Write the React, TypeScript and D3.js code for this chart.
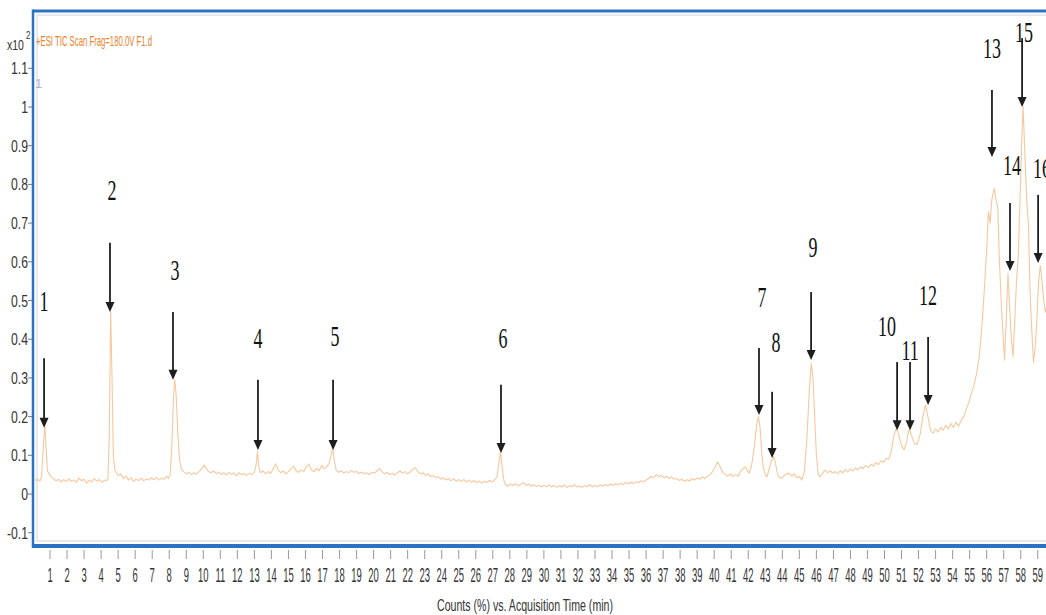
import React, { useRef, useEffect } from 'react';
import * as d3 from 'd3';

const W = 1046;
const H = 615;

// TIC trace: [acquisition time (min), counts (x10^2)]
const trace0to10: [number, number][] = [
  [0.0, 0.036], [0.1, 0.040], [0.2, 0.034], [0.3, 0.038], [0.4, 0.033], [0.5, 0.045], [0.6, 0.12], [0.69, 0.178],
  [0.78, 0.11], [0.85, 0.06], [0.95, 0.052], [1.05, 0.045], [1.2, 0.040], [1.35, 0.034], [1.5, 0.038], [1.65, 0.031],
  [1.8, 0.037], [1.95, 0.032], [2.1, 0.039], [2.25, 0.033], [2.4, 0.036], [2.55, 0.030], [2.7, 0.041], [2.85, 0.034],
  [3.0, 0.038], [3.15, 0.028], [3.3, 0.036], [3.45, 0.031], [3.6, 0.040], [3.75, 0.033], [3.9, 0.037], [4.05, 0.030],
  [4.2, 0.036], [4.3, 0.034], [4.4, 0.04], [4.48, 0.15], [4.56, 0.47], [4.64, 0.30], [4.72, 0.10], [4.8, 0.062],
  [4.9, 0.055], [5.0, 0.048], [5.15, 0.052], [5.3, 0.040], [5.45, 0.046], [5.6, 0.036], [5.75, 0.042], [5.9, 0.033],
  [6.05, 0.038], [6.2, 0.035], [6.35, 0.041], [6.5, 0.034], [6.65, 0.039], [6.8, 0.036], [6.95, 0.042], [7.1, 0.037],
  [7.25, 0.043], [7.4, 0.036], [7.55, 0.041], [7.7, 0.038], [7.85, 0.046], [7.95, 0.040], [8.05, 0.05], [8.15, 0.12],
  [8.25, 0.25], [8.32, 0.295], [8.4, 0.26], [8.5, 0.16], [8.6, 0.09], [8.7, 0.065], [8.85, 0.058], [9.0, 0.052],
  [9.15, 0.056], [9.3, 0.050], [9.45, 0.055], [9.6, 0.051], [9.75, 0.058], [9.9, 0.064], [10.05, 0.075], [10.15, 0.068],
];

const trace10to28: [number, number][] = [
  [10.3, 0.058], [10.45, 0.055], [10.6, 0.060], [10.75, 0.052], [10.9, 0.057], [11.05, 0.050], [11.2, 0.055], [11.35, 0.049],
  [11.5, 0.056], [11.65, 0.051], [11.8, 0.054], [11.95, 0.047], [12.1, 0.055], [12.25, 0.050], [12.4, 0.053], [12.55, 0.048],
  [12.7, 0.054], [12.85, 0.050], [13.0, 0.056], [13.1, 0.075], [13.18, 0.11], [13.26, 0.07], [13.35, 0.055], [13.5, 0.060],
  [13.65, 0.052], [13.8, 0.058], [13.95, 0.053], [14.1, 0.065], [14.25, 0.078], [14.4, 0.062], [14.55, 0.055], [14.7, 0.060],
  [14.85, 0.052], [15.0, 0.058], [15.15, 0.066], [15.3, 0.072], [15.45, 0.060], [15.6, 0.056], [15.75, 0.063], [15.9, 0.058],
  [16.05, 0.070], [16.2, 0.078], [16.35, 0.062], [16.5, 0.058], [16.65, 0.066], [16.8, 0.060], [16.95, 0.074], [17.1, 0.065],
  [17.25, 0.070], [17.4, 0.080], [17.5, 0.100], [17.6, 0.12], [17.7, 0.085], [17.8, 0.062], [17.95, 0.056], [18.1, 0.060],
  [18.25, 0.054], [18.4, 0.058], [18.55, 0.055], [18.7, 0.061], [18.85, 0.056], [19.0, 0.058], [19.15, 0.053], [19.3, 0.057],
  [19.45, 0.052], [19.6, 0.055], [19.75, 0.050], [19.9, 0.056], [20.05, 0.054], [20.2, 0.060], [20.35, 0.066], [20.5, 0.058],
  [20.65, 0.052], [20.8, 0.056], [20.95, 0.050], [21.1, 0.054], [21.25, 0.049], [21.4, 0.055], [21.55, 0.060], [21.7, 0.054],
  [21.85, 0.058], [22.0, 0.052], [22.15, 0.057], [22.3, 0.064], [22.45, 0.068], [22.6, 0.058], [22.75, 0.052], [22.9, 0.055],
  [23.05, 0.048], [23.2, 0.052], [23.35, 0.045], [23.5, 0.048], [23.65, 0.042], [23.8, 0.045], [23.95, 0.038], [24.1, 0.042],
  [24.25, 0.036], [24.4, 0.040], [24.55, 0.034], [24.7, 0.039], [24.85, 0.033], [25.0, 0.037], [25.15, 0.032], [25.3, 0.038],
  [25.45, 0.031], [25.6, 0.036], [25.75, 0.030], [25.9, 0.035], [26.05, 0.029], [26.2, 0.034], [26.35, 0.028], [26.5, 0.033],
  [26.65, 0.030], [26.8, 0.035], [26.95, 0.031], [27.1, 0.036], [27.25, 0.045], [27.35, 0.08], [27.45, 0.11], [27.55, 0.07],
  [27.65, 0.035], [27.75, 0.024], [27.9, 0.020],
];

const trace28to44: [number, number][] = [
  [28.05, 0.026], [28.2, 0.022], [28.35, 0.027], [28.5, 0.021], [28.65, 0.025], [28.8, 0.030], [28.95, 0.022], [29.1, 0.026],
  [29.25, 0.020], [29.4, 0.024], [29.55, 0.019], [29.7, 0.023], [29.85, 0.018], [30.0, 0.022], [30.15, 0.019], [30.3, 0.024],
  [30.45, 0.018], [30.6, 0.022], [30.75, 0.017], [30.9, 0.021], [31.05, 0.018], [31.2, 0.023], [31.35, 0.017], [31.5, 0.021],
  [31.65, 0.019], [31.8, 0.024], [31.95, 0.018], [32.1, 0.021], [32.25, 0.017], [32.4, 0.022], [32.55, 0.019], [32.7, 0.025],
  [32.85, 0.018], [33.0, 0.022], [33.15, 0.019], [33.3, 0.024], [33.45, 0.020], [33.6, 0.025], [33.75, 0.021], [33.9, 0.026],
  [34.05, 0.022], [34.2, 0.027], [34.35, 0.023], [34.5, 0.028], [34.65, 0.024], [34.8, 0.030], [34.95, 0.026], [35.1, 0.031],
  [35.25, 0.027], [35.4, 0.032], [35.55, 0.029], [35.7, 0.034], [35.85, 0.031], [36.0, 0.036], [36.15, 0.040], [36.3, 0.046],
  [36.45, 0.042], [36.6, 0.050], [36.75, 0.045], [36.9, 0.048], [37.05, 0.042], [37.2, 0.046], [37.35, 0.040], [37.5, 0.044],
  [37.65, 0.038], [37.8, 0.040], [37.95, 0.035], [38.1, 0.038], [38.25, 0.033], [38.4, 0.037], [38.55, 0.034], [38.7, 0.040],
  [38.85, 0.036], [39.0, 0.042], [39.15, 0.038], [39.3, 0.044], [39.45, 0.040], [39.6, 0.046], [39.75, 0.050], [39.9, 0.058],
  [40.05, 0.070], [40.2, 0.083], [40.35, 0.070], [40.5, 0.056], [40.65, 0.050], [40.8, 0.046], [40.95, 0.052], [41.1, 0.045],
  [41.25, 0.050], [41.4, 0.046], [41.55, 0.058], [41.7, 0.066], [41.85, 0.070], [41.95, 0.060], [42.05, 0.054], [42.2, 0.075],
  [42.35, 0.12], [42.5, 0.18], [42.6, 0.20], [42.7, 0.17], [42.8, 0.10], [42.9, 0.065], [43.0, 0.050], [43.1, 0.044],
  [43.2, 0.060], [43.35, 0.085], [43.5, 0.096], [43.6, 0.08], [43.7, 0.055], [43.8, 0.044], [43.95, 0.040], [44.1, 0.047],
  [44.25, 0.052],
];

const trace44to53: [number, number][] = [
  [44.4, 0.054], [44.55, 0.046], [44.7, 0.052], [44.85, 0.042], [45.0, 0.045], [45.15, 0.036], [45.3, 0.060], [45.45, 0.15],
  [45.6, 0.28], [45.7, 0.338], [45.8, 0.30], [45.9, 0.20], [46.0, 0.10], [46.1, 0.055], [46.2, 0.044], [46.35, 0.052],
  [46.5, 0.062], [46.65, 0.055], [46.8, 0.060], [46.95, 0.054], [47.1, 0.058], [47.25, 0.052], [47.4, 0.060], [47.55, 0.055],
  [47.7, 0.063], [47.85, 0.057], [48.0, 0.065], [48.15, 0.060], [48.3, 0.068], [48.45, 0.062], [48.6, 0.070], [48.75, 0.066],
  [48.9, 0.074], [49.05, 0.068], [49.2, 0.077], [49.35, 0.072], [49.5, 0.081], [49.65, 0.076], [49.8, 0.086], [49.95, 0.082],
  [50.1, 0.092], [50.25, 0.090], [50.4, 0.11], [50.55, 0.15], [50.7, 0.17], [50.85, 0.15], [51.0, 0.125], [51.15, 0.114],
  [51.3, 0.135], [51.45, 0.168], [51.6, 0.15], [51.75, 0.13], [51.9, 0.128], [52.0, 0.14], [52.1, 0.155], [52.25, 0.20],
  [52.4, 0.23], [52.55, 0.20], [52.7, 0.165], [52.85, 0.157], [53.0, 0.168],
];

const trace53to60: [number, number][] = [
  [53.15, 0.16], [53.3, 0.172], [53.45, 0.165], [53.6, 0.178], [53.75, 0.168], [53.9, 0.182], [54.05, 0.172], [54.2, 0.186],
  [54.35, 0.175], [54.5, 0.19], [54.65, 0.20], [54.8, 0.22], [54.95, 0.235], [55.1, 0.26], [55.25, 0.28], [55.4, 0.31],
  [55.55, 0.35], [55.7, 0.42], [55.85, 0.52], [56.0, 0.63], [56.1, 0.73], [56.2, 0.70], [56.3, 0.76], [56.45, 0.79],
  [56.55, 0.76], [56.65, 0.74], [56.75, 0.60], [56.85, 0.50], [56.95, 0.42], [57.05, 0.346], [57.15, 0.45], [57.25, 0.57],
  [57.35, 0.48], [57.45, 0.40], [57.55, 0.355], [57.65, 0.45], [57.75, 0.55], [57.85, 0.61], [57.95, 0.75], [58.05, 0.90],
  [58.14, 1.0], [58.25, 0.87], [58.35, 0.76], [58.45, 0.70], [58.55, 0.52], [58.65, 0.42], [58.75, 0.34], [58.85, 0.38],
  [58.95, 0.45], [59.05, 0.55], [59.15, 0.59], [59.25, 0.55], [59.35, 0.50], [59.45, 0.47], [59.55, 0.49],
];

const timeTicks = d3.range(1, 60);
const countTicks = [-0.1, 0, 0.1, 0.2, 0.3, 0.4, 0.5, 0.6, 0.7, 0.8, 0.9, 1, 1.1];

// numbered peaks: arrow tip / arrow top / label centre, all in data units
const peaks = [
  { id: '1', t: 0.65, tip: 0.171, top: 0.351, lt: 0.65, lv: 0.50 },
  { id: '2', t: 4.52, tip: 0.47, top: 0.649, lt: 4.64, lv: 0.786 },
  { id: '3', t: 8.22, tip: 0.295, top: 0.47, lt: 8.34, lv: 0.579 },
  { id: '4', t: 13.21, tip: 0.114, top: 0.295, lt: 13.21, lv: 0.403 },
  { id: '5', t: 17.62, tip: 0.114, top: 0.295, lt: 17.74, lv: 0.408 },
  { id: '6', t: 27.48, tip: 0.106, top: 0.282, lt: 27.6, lv: 0.403 },
  { id: '7', t: 42.63, tip: 0.204, top: 0.377, lt: 42.81, lv: 0.509 },
  { id: '8', t: 43.4, tip: 0.093, top: 0.264, lt: 43.63, lv: 0.393 },
  { id: '9', t: 45.69, tip: 0.346, top: 0.522, lt: 45.8, lv: 0.638 },
  { id: '10', t: 50.74, tip: 0.165, top: 0.341, lt: 50.15, lv: 0.434 },
  { id: '11', t: 51.5, tip: 0.165, top: 0.341, lt: 51.5, lv: 0.372 },
  { id: '12', t: 52.56, tip: 0.23, top: 0.406, lt: 52.56, lv: 0.514 },
  { id: '13', t: 56.31, tip: 0.871, top: 1.044, lt: 56.31, lv: 1.152 },
  { id: '14', t: 57.37, tip: 0.576, top: 0.752, lt: 57.49, lv: 0.85 },
  { id: '15', t: 58.08, tip: 1.0, top: 1.178, lt: 58.19, lv: 1.194 },
  { id: '16', t: 59.02, tip: 0.597, top: 0.773, lt: 59.25, lv: 0.842 },
];

export default function App() {
  const svgRef = useRef<SVGSVGElement>(null);

  useEffect(() => {
    const svg = d3.select(svgRef.current);
    svg.selectAll('*').remove();

    const plot = { left: 33, top: 11, bottom: 546, right: 1060 };
    const x = d3.scaleLinear().domain([0, 60]).range([33, 33 + 60 * 17.03]);
    const y = d3.scaleLinear().domain([-0.1, 1.1]).range([532.7, 68.3]);

    svg.append('rect').attr('width', W).attr('height', H).attr('fill', 'white');

    svg.append('defs').append('clipPath').attr('id', 'plot-clip')
      .append('rect')
      .attr('x', plot.left + 2).attr('y', plot.top + 2)
      .attr('width', plot.right - plot.left).attr('height', plot.bottom - plot.top - 4);

    // inner pale frame
    svg.append('rect')
      .attr('x', plot.left + 4).attr('y', plot.top + 4)
      .attr('width', plot.right - plot.left).attr('height', plot.bottom - plot.top - 9)
      .attr('fill', 'none').attr('stroke', '#dde2e8').attr('stroke-width', 1.5);

    // blue frame
    const blue = '#2a72c2';
    svg.append('line').attr('x1', plot.left).attr('x2', W).attr('y1', plot.top).attr('y2', plot.top)
      .attr('stroke', blue).attr('stroke-width', 3);
    svg.append('line').attr('x1', plot.left).attr('x2', W).attr('y1', plot.bottom).attr('y2', plot.bottom)
      .attr('stroke', blue).attr('stroke-width', 4);
    svg.append('line').attr('x1', plot.left).attr('x2', plot.left).attr('y1', plot.top - 1.5).attr('y2', plot.bottom + 2)
      .attr('stroke', blue).attr('stroke-width', 2.5);

    // y axis
    const yAxis = svg.append('g');
    countTicks.forEach(v => {
      yAxis.append('line').attr('x1', 28).attr('x2', 32).attr('y1', y(v)).attr('y2', y(v))
        .attr('stroke', '#777').attr('stroke-width', 1);
      yAxis.append('text')
        .attr('transform', `translate(28,${y(v) + 6}) scale(0.72,1)`)
        .attr('text-anchor', 'end')
        .attr('font-family', 'Liberation Sans, Arial, sans-serif')
        .attr('font-size', 17)
        .attr('fill', '#333')
        .text(String(v));
    });

    // x axis
    const xAxis = svg.append('g');
    timeTicks.forEach(t => {
      xAxis.append('line').attr('x1', x(t)).attr('x2', x(t)).attr('y1', 550).attr('y2', 559)
        .attr('stroke', '#999').attr('stroke-width', 1);
      xAxis.append('text')
        .attr('transform', `translate(${x(t)},582) scale(0.45,1)`)
        .attr('text-anchor', 'middle')
        .attr('font-family', 'Liberation Sans, Arial, sans-serif')
        .attr('font-size', 21)
        .attr('fill', '#333')
        .text(String(t));
    });

    svg.append('text')
      .attr('x', 437).attr('y', 611)
      .attr('textLength', 176).attr('lengthAdjust', 'spacingAndGlyphs')
      .attr('font-family', 'Liberation Sans, Arial, sans-serif')
      .attr('font-size', 16)
      .attr('fill', '#333')
      .text('Counts (%) vs. Acquisition Time (min)');

    // multiplier and trace title
    svg.append('text')
      .attr('transform', 'translate(7,50) scale(0.7,1)')
      .attr('font-family', 'Liberation Sans, Arial, sans-serif')
      .attr('font-size', 15).attr('fill', '#333')
      .text('x10');
    svg.append('text')
      .attr('transform', 'translate(26,39) scale(0.8,1)')
      .attr('font-family', 'Liberation Sans, Arial, sans-serif')
      .attr('font-size', 10).attr('fill', '#333')
      .text('2');
    svg.append('text')
      .attr('x', 36).attr('y', 46)
      .attr('textLength', 116).attr('lengthAdjust', 'spacingAndGlyphs')
      .attr('font-family', 'Liberation Sans, Arial, sans-serif')
      .attr('font-size', 15).attr('fill', '#e8822a')
      .text('+ESI TIC Scan Frag=180.0V F1.d');
    svg.append('text')
      .attr('x', 35).attr('y', 88)
      .attr('font-family', 'Liberation Sans, Arial, sans-serif')
      .attr('font-size', 13).attr('fill', '#a9b4c2')
      .text('1');

    // TIC trace
    const trace = [...trace0to10, ...trace10to28, ...trace28to44, ...trace44to53, ...trace53to60];
    const line = d3.line<[number, number]>().x(d => x(d[0])).y(d => y(d[1]));
    svg.append('path')
      .datum(trace)
      .attr('clip-path', 'url(#plot-clip)')
      .attr('fill', 'none')
      .attr('stroke', '#f6c89e')
      .attr('stroke-width', 1.1)
      .attr('stroke-linejoin', 'round')
      .attr('d', line);

    // peak arrows and numbers
    const ann = svg.append('g');
    peaks.forEach(p => {
      const px = x(p.t);
      const tipY = y(p.tip);
      ann.append('line')
        .attr('x1', px).attr('x2', px)
        .attr('y1', y(p.top)).attr('y2', tipY - 8)
        .attr('stroke', '#1e1e1e').attr('stroke-width', 1.8);
      ann.append('path')
        .attr('d', `M${px - 4.5},${tipY - 10} L${px + 4.5},${tipY - 10} L${px},${tipY} Z`)
        .attr('fill', '#1e1e1e');
      ann.append('text')
        .attr('transform', `translate(${x(p.lt)},${y(p.lv) + 10}) scale(0.6,1)`)
        .attr('text-anchor', 'middle')
        .attr('font-family', 'Liberation Serif, Times New Roman, serif')
        .attr('font-size', 30)
        .attr('fill', '#111')
        .text(p.id);
    });
  }, []);

  return (
    <svg
      ref={svgRef}
      width={W}
      height={H}
      viewBox={`0 0 ${W} ${H}`}
      style={{ position: 'absolute', left: 0, top: 0, display: 'block' }}
    />
  );
}
